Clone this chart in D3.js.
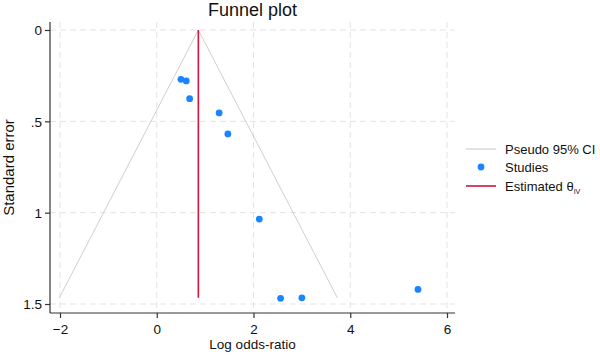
<!DOCTYPE html>
<html>
<head>
<meta charset="utf-8">
<script src="https://cdn.jsdelivr.net/npm/d3@7"></script>
<style>
  body { margin: 0; background: #fff; }
  text { font-family: "Liberation Sans", Arial, sans-serif; }
</style>
</head>
<body>
<div id="vis"></div>
<script>
// study estimates
const logOR = [0.50, 0.61, 0.68, 1.29, 1.47, 2.12, 2.56, 3.00, 5.40];
const stdErr = [0.270, 0.279, 0.376, 0.454, 0.569, 1.035, 1.469, 1.466, 1.420];
const thetaIV = 0.86;
const maxSE = 1.466;
const xTicks = [-2, 0, 2, 4, 6];
const yTicks = [0, 0.5, 1, 1.5];
const yTickLabels = ["0", ".5", "1", "1.5"];

const width = 600, height = 355;
const plot = { left: 50, right: 455, top: 22, bottom: 313 };

const blue = "#1a85ff", red = "#d0153f", gray = "#cfcfcf";

const svg = d3.select("#vis").append("svg")
    .attr("width", width)
    .attr("height", height);

const x = d3.scaleLinear().domain([-2, 6]).range([60, 447]);
const y = d3.scaleLinear().domain([0, 1.5]).range([30, 304]);

// grid
svg.append("g").selectAll("line")
    .data(xTicks)
    .join("line")
    .attr("x1", d => x(d)).attr("x2", d => x(d))
    .attr("y1", plot.top).attr("y2", plot.bottom)
    .attr("stroke", "#e3e3e3")
    .attr("stroke-dasharray", "6,4");
svg.append("g").selectAll("line")
    .data(yTicks)
    .join("line")
    .attr("x1", plot.left).attr("x2", plot.right)
    .attr("y1", d => y(d)).attr("y2", d => y(d))
    .attr("stroke", "#e3e3e3")
    .attr("stroke-dasharray", "6,4");

// axes
const xAxis = svg.append("g")
    .attr("transform", `translate(0,${plot.bottom})`)
    .call(d3.axisBottom(x).tickValues(xTicks).tickSize(5).tickSizeOuter(0).tickFormat(d3.format("d")));
xAxis.select(".domain").attr("d", `M${plot.left},0H${plot.right}`);

const yAxis = svg.append("g")
    .attr("transform", `translate(${plot.left},0)`)
    .call(d3.axisLeft(y).tickValues(yTicks).tickSize(5).tickSizeOuter(0).tickFormat((d, i) => yTickLabels[i]));
yAxis.select(".domain").attr("d", `M0,${plot.top}V${plot.bottom}`);

svg.selectAll(".domain, .tick line").attr("stroke", "#333").attr("stroke-width", 1.2);
svg.selectAll(".tick text").attr("font-size", 13.5).attr("fill", "#111")
    .style("font-family", "\"Liberation Sans\", Arial, sans-serif");
xAxis.selectAll(".tick text").attr("y", 8).attr("dy", "0.98em");
yAxis.selectAll(".tick text").attr("dy", "0.35em").attr("x", -8);

// pseudo 95% CI funnel
svg.append("path")
    .attr("d", d3.line()([
        [x(thetaIV - 1.96 * maxSE), y(maxSE)],
        [x(thetaIV), y(0)],
        [x(thetaIV + 1.96 * maxSE), y(maxSE)]
    ]))
    .attr("fill", "none")
    .attr("stroke", gray)
    .attr("stroke-width", 1);

// estimated theta
svg.append("line")
    .attr("x1", x(thetaIV)).attr("x2", x(thetaIV))
    .attr("y1", y(0)).attr("y2", y(maxSE))
    .attr("stroke", red)
    .attr("stroke-width", 1.6);

// studies
svg.append("g").selectAll("circle")
    .data(logOR)
    .join("circle")
    .attr("cx", d => x(d))
    .attr("cy", (d, i) => y(stdErr[i]))
    .attr("r", 3.4)
    .attr("fill", blue);

// titles
svg.append("text")
    .attr("x", (plot.left + plot.right) / 2)
    .attr("y", 16)
    .attr("text-anchor", "middle")
    .attr("font-size", 18)
    .attr("fill", "#111")
    .text("Funnel plot");

svg.append("text")
    .attr("x", (plot.left + plot.right) / 2)
    .attr("y", 349)
    .attr("text-anchor", "middle")
    .attr("font-size", 13.5)
    .attr("fill", "#111")
    .text("Log odds-ratio");

svg.append("text")
    .attr("transform", `translate(14,${(plot.top + plot.bottom) / 2}) rotate(-90)`)
    .attr("text-anchor", "middle")
    .attr("font-size", 15)
    .attr("fill", "#111")
    .text("Standard error");

// legend
const legend = svg.append("g").attr("transform", "translate(466,0)");
const rows = [149, 167, 186];
legend.append("line")
    .attr("x1", 0).attr("x2", 30).attr("y1", rows[0]).attr("y2", rows[0])
    .attr("stroke", gray).attr("stroke-width", 1.2);
legend.append("circle")
    .attr("cx", 15).attr("cy", rows[1]).attr("r", 3.4).attr("fill", blue);
legend.append("line")
    .attr("x1", 0).attr("x2", 30).attr("y1", rows[2]).attr("y2", rows[2])
    .attr("stroke", red).attr("stroke-width", 1.6);

const labels = ["Pseudo 95% CI", "Studies", "Estimated θ"];
legend.selectAll("text.lab")
    .data(labels)
    .join("text")
    .attr("class", "lab")
    .attr("x", 39)
    .attr("y", (d, i) => rows[i])
    .attr("dy", "0.35em")
    .attr("font-size", 13)
    .attr("fill", "#111")
    .text(d => d)
    .filter((d, i) => i === 2)
    .append("tspan")
    .attr("font-size", 7)
    .attr("dy", "0.45em")
    .text("IV");
</script>
</body>
</html>
